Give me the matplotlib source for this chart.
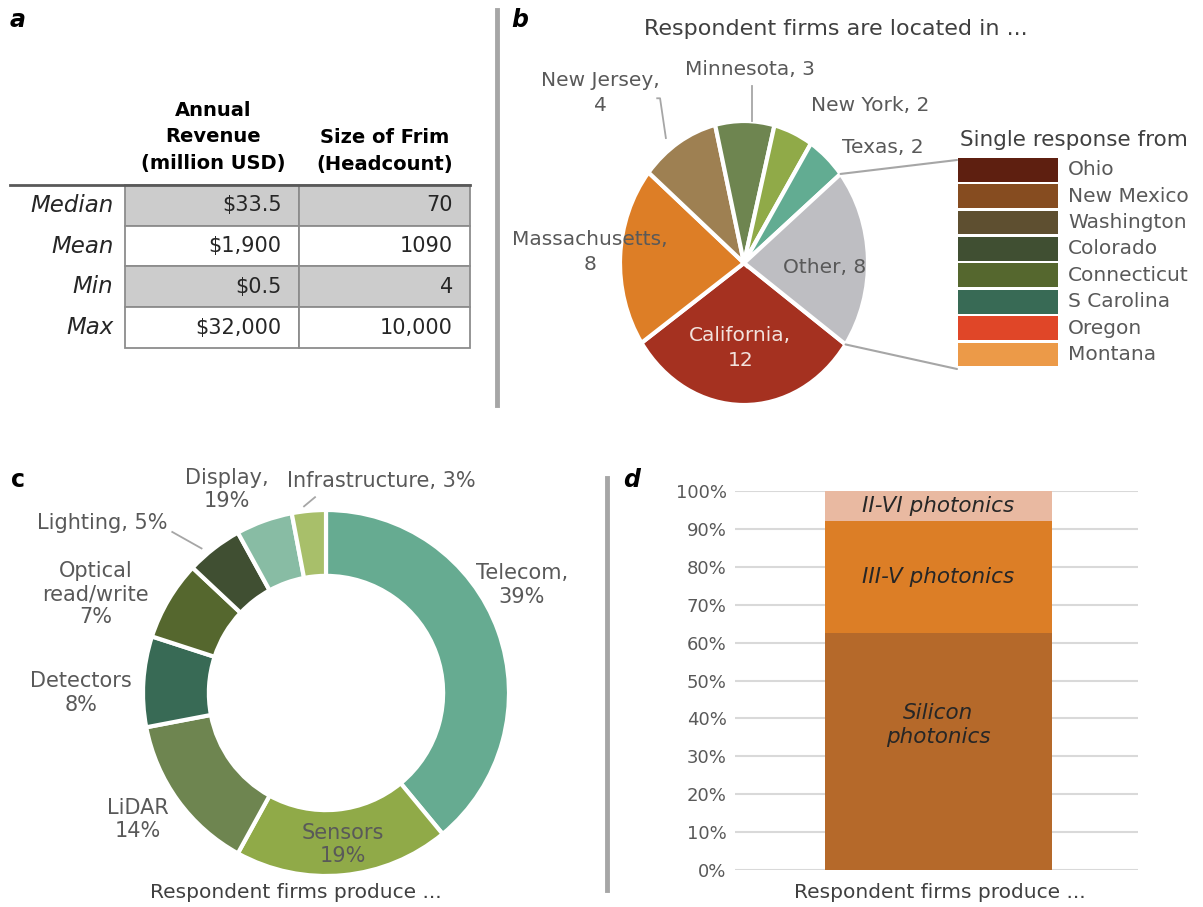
import matplotlib
matplotlib.use("Agg")
import matplotlib.pyplot as plt
import numpy as np
from matplotlib.lines import Line2D
from matplotlib.patches import ConnectionPatch

W, H = 1203, 907

# panel a
stat_names = ["Median", "Mean", "Min", "Max"]
revenue = ["$33.5", "$1,900", "$0.5", "$32,000"]
headcount = ["70", "1090", "4", "10,000"]
col_headers = ["Annual\nRevenue\n(million USD)", "Size of Frim\n(Headcount)"]

# panel b
states = ["California", "Massachusetts", "New Jersey", "Minnesota", "New York", "Texas", "Other"]
state_counts = [12, 8, 4, 3, 2, 2, 8]
state_colors = ["#A53120", "#DD7E26", "#9E8052", "#6E8550", "#90AA48", "#62AC92", "#BEBEC2"]
single_states = ["Ohio", "New Mexico", "Washington", "Colorado", "Connecticut", "S Carolina", "Oregon", "Montana"]
single_colors = ["#5E1F10", "#864C20", "#5E4F30", "#404F32", "#55672E", "#386A55", "#E04628", "#EC9A48"]

# panel c
products = ["Telecom", "Sensors", "LiDAR", "Detectors", "Optical read/write", "Lighting", "Display", "Infrastructure"]
product_share = [39, 19, 14, 8, 7, 5, 5, 3]
product_labels = ["Telecom,\n39%", "Sensors\n19%", "LiDAR\n14%", "Detectors\n8%",
                  "Optical\nread/write\n7%", "Lighting, 5%", "Display,\n19%", "Infrastructure, 3%"]
product_colors = ["#66AB91", "#90AA48", "#6E8550", "#386A55", "#55672E", "#404F32", "#88BCA4", "#A8BF6A"]

# panel d
platforms = ["Silicon\nphotonics", "III-V photonics", "II-VI photonics"]
platform_share = [62.5, 29.5, 8.0]
platform_colors = ["#B5692A", "#DC7E26", "#E9B9A1"]
y_ticks = [0, 10, 20, 30, 40, 50, 60, 70, 80, 90, 100]

TXT = "#595959"
DARK = "#404040"


def px_box(x0, y0, x1, y1):
    return [x0 / W, 1 - y1 / H, (x1 - x0) / W, (y1 - y0) / H]


def fig_text(x, y, s, **kw):
    fig.text(x / W, 1 - y / H, s, **kw)


plt.rcParams["font.family"] = ["DejaVu Sans"]
fig = plt.figure(figsize=(W / 100, H / 100), dpi=100)

# separators
fig.add_artist(Line2D([497 / W] * 2, [1 - 10 / H, 1 - 405 / H], color="#A6A6A6", lw=3.5))
fig.add_artist(Line2D([607 / W] * 2, [1 - 478 / H, 1 - 890 / H], color="#A6A6A6", lw=3.5))

# panel letters
fig_text(18, 20, "a", fontsize=17, fontweight="bold", style="italic", ha="center", va="center")
fig_text(520, 20, "b", fontsize=17, fontweight="bold", style="italic", ha="center", va="center")
fig_text(18, 480, "c", fontsize=17, fontweight="bold", ha="center", va="center")
fig_text(632, 480, "d", fontsize=17, fontweight="bold", style="italic", ha="center", va="center")

# ---- a: table
ax_a = fig.add_axes(px_box(10, 185, 470, 348))
ax_a.axis("off")
cells = [[n, r, h] for n, r, h in zip(stat_names, revenue, headcount)]
tbl = ax_a.table(cellText=cells, cellLoc="right", colWidths=[115, 174, 171], bbox=[0, 0, 1, 1])
tbl.auto_set_font_size(False)
tbl.set_fontsize(15)
for (r, c), cell in tbl.get_celld().items():
    cell.set_edgecolor("#8C8C8C")
    cell.set_linewidth(1.3)
    cell.get_text().set_color("#262626")
    if c == 0:
        cell.visible_edges = ""
        cell.get_text().set_style("italic")
        cell.get_text().set_fontsize(16.5)
    elif r in (0, 2):
        cell.set_facecolor("#CCCCCC")
ax_a.plot([0, 1], [1, 1], color="#595959", lw=2, transform=ax_a.transAxes, clip_on=False)
fig_text(213, 137, col_headers[0], fontsize=14, fontweight="bold", ha="center", va="center", linespacing=1.5)
fig_text(385, 151, col_headers[1], fontsize=14, fontweight="bold", ha="center", va="center", linespacing=1.5)

# ---- b: pie of states
ax_b = fig.add_axes(px_box(620, 121, 868, 405))
start_b = -35
wedges, _ = ax_b.pie(state_counts, colors=state_colors, startangle=start_b, counterclock=False,
                     wedgeprops=dict(edgecolor="white", linewidth=3))
ax_b.set_aspect("auto")
ax_b.set_xlim(-1, 1)
ax_b.set_ylim(-1, 1)

label_pos_b = [(-0.03, -0.60), (-1.24, 0.08), (-1.16, 1.20), (0.05, 1.36), (1.02, 1.11), (1.12, 0.81), (0.65, -0.03)]
label_txt_b = ["California,\n12", "Massachusetts,\n8", "New Jersey,\n4", "Minnesota, 3", "New York, 2", "Texas, 2", "Other, 8"]
for i, (pos, s) in enumerate(zip(label_pos_b, label_txt_b)):
    color = "#F2E2DD" if i == 0 else TXT
    ax_b.text(pos[0], pos[1], s, ha="center", va="center", fontsize=14.5, color=color, linespacing=1.4, clip_on=False)
ax_b.plot([-0.70, -0.677, -0.63], [1.16, 1.16, 0.88], color="#A6A6A6", lw=1.3, clip_on=False)
ax_b.plot([0.065, 0.065], [1.25, 1.0], color="#A6A6A6", lw=1.3, clip_on=False)
fig_text(836, 29, "Respondent firms are located in ...", fontsize=16, color=DARK, ha="center", va="center")

# edges of the "Other" wedge joined to the single-response list
total_b = sum(state_counts)
a_top = np.deg2rad(start_b - 360 * sum(state_counts[:-1]) / total_b)
a_bot = np.deg2rad(start_b - 360 * total_b / total_b)
for ang, py in [(a_top, 160), (a_bot, 369)]:
    con = ConnectionPatch(xyA=(np.cos(ang), np.sin(ang)), coordsA=ax_b.transData,
                          xyB=(957 / W, 1 - py / H), coordsB=fig.transFigure,
                          color="#A6A6A6", lw=1.5)
    fig.add_artist(con)

# single response list
fig_text(960, 140, "Single response from", fontsize=15.5, color=DARK, ha="left", va="center")
ax_l = fig.add_axes(px_box(958, 158, 1058, 369))
ax_l.barh(range(len(single_states)), [1] * len(single_states), height=0.9, color=single_colors)
ax_l.set_xlim(0, 1)
ax_l.set_ylim(len(single_states) - 0.45, -0.45)
ax_l.axis("off")
for i, s in enumerate(single_states):
    ax_l.text(1.1, i, s, fontsize=14.5, color=TXT, ha="left", va="center", clip_on=False)

# ---- c: donut of products
ax_c = fig.add_axes(px_box(143, 510, 509, 876))
ax_c.pie(product_share, colors=product_colors, startangle=90, counterclock=False,
         wedgeprops=dict(width=0.36, edgecolor="white", linewidth=3))
ax_c.set_xlim(-1, 1)
ax_c.set_ylim(-1, 1)
label_pos_c = [(1.07, 0.59), (0.09, -0.83), (-1.03, -0.69), (-1.34, 0.0),
               (-1.26, 0.54), (-1.22, 0.93), (-0.54, 1.11), (0.30, 1.16)]
for pos, s in zip(label_pos_c, product_labels):
    ax_c.text(pos[0], pos[1], s, ha="center", va="center", fontsize=15, color=TXT, linespacing=1.2, clip_on=False)
ax_c.plot([-0.84, -0.68], [0.88, 0.79], color="#A6A6A6", lw=1.3, clip_on=False)
ax_c.plot([-0.12, -0.06], [1.02, 1.07], color="#A6A6A6", lw=1.3, clip_on=False)
fig_text(296, 893, "Respondent firms produce ...", fontsize=14.5, color=DARK, ha="center", va="center")

# ---- d: stacked bar
ax_d = fig.add_axes(px_box(735, 491, 1138, 870))
bottom = 0
for name, val, col in zip(platforms, platform_share, platform_colors):
    ax_d.bar(0, val, bottom=bottom, width=1, color=col, zorder=3)
    ax_d.text(0, bottom + val / 2 + (7 if "Silicon" in name else 0), name, ha="center", va="center",
              fontsize=15.5, style="italic", color="#262626", zorder=4, linespacing=1.2)
    bottom += val
ax_d.set_xlim(-0.896, 0.879)
ax_d.set_ylim(0, 100)
ax_d.set_yticks(y_ticks)
ax_d.set_yticklabels([f"{t}%" for t in y_ticks])
ax_d.set_xticks([])
ax_d.grid(axis="y", color="#D9D9D9", lw=1.5, zorder=0)
ax_d.tick_params(axis="y", length=0, labelsize=13, labelcolor=TXT, pad=6)
for sp in ax_d.spines.values():
    sp.set_visible(False)
fig_text(940, 893, "Respondent firms produce ...", fontsize=14.5, color=DARK, ha="center", va="center")

fig.savefig("out.png", dpi=100)
